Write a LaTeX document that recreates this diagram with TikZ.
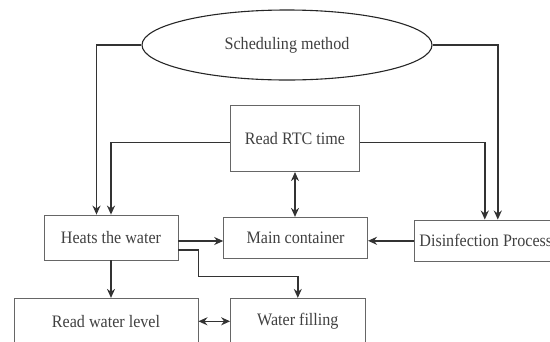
\documentclass[tikz,border=0pt]{standalone}
\usepackage{fontspec}
\setmainfont{Liberation Serif}[FakeStretch=0.92]
\usetikzlibrary{positioning,shapes.geometric,arrows.meta}
\tikzset{%
  every block/.style={
    rectangle,
    draw=gray!80!black,
    line width=0.8pt,
    inner sep=0pt,
    text=black!75,
    font=\fontsize{17.5}{20}\selectfont
  },
  block sched/.style={
    ellipse,
    draw=black!85,
    line width=1.1pt
  },
  link/.style={
    draw=black!80,
    line width=1.5pt
  },
}

\begin{document}
\begin{tikzpicture}[x=1pt, y=-1pt, >={Stealth[length=9pt,width=8pt]}]

    \useasboundingbox (0,0) rectangle (550,341);

    \node [every block, block sched, minimum width=290pt, minimum height=70pt] (sched) at (287,45) {Scheduling method};
    \node [every block, minimum width=129pt, minimum height=66.7pt] (rtc) at (295,138.3) {Read RTC time};
    \node [every block, minimum width=134pt, minimum height=45pt] (heat) at (111,237.5) {Heats the water};
    \node [every block, minimum width=144pt, minimum height=41pt] (main) at (295.6,237.8) {Main container};
    \node [every block, anchor=west, inner xsep=5pt, minimum height=41.7pt] (dis) at (414,240.8) {Disinfection Process};
    \node [every block, minimum width=184pt, minimum height=46pt] (level) at (106,321.3) {Read water level};
    \node [every block, minimum width=134.5pt, minimum height=46pt] (wfill) at (297.8,321.3) {Water filling};

    \draw [link, ->] (sched.west) -| ([xshift=-14.5pt]heat.north);
    \draw [link, ->] ([yshift=-4pt]rtc.west) -| (heat.north);

    \draw [link, ->] (sched.east) -| ([xshift=12pt]dis.north);
    \draw [link, ->] ([yshift=-4pt]rtc.east) -| ([xshift=-1pt]dis.north);

    \draw [link, <->] (rtc.south) -- (rtc.south |- main.north);
    \draw [link, ->] ([yshift=-3.5pt]heat.east) -- ([yshift=-3.5pt]heat.east -| main.west);
    \draw [link, ->] (dis.west) -- (dis.west -| main.east);

    \draw [link, ->] ([yshift=-12.5pt]heat.east) -- ++(20pt,0pt)
      |- ([yshift=21.6pt]wfill.north) -- (wfill.north);
    \draw [link, ->] (heat.south) -- (heat.south |- level.north);
    \draw [link, <->] (level.east) -- (wfill.west);

\end{tikzpicture}
\end{document}
